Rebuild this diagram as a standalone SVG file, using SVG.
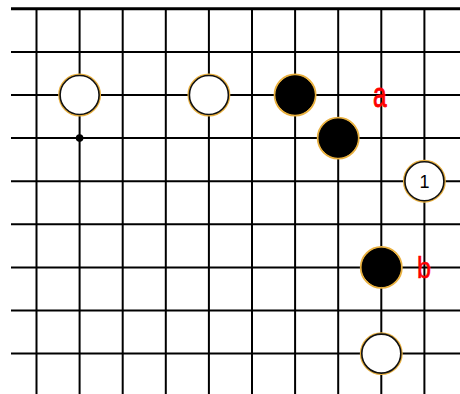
<svg xmlns="http://www.w3.org/2000/svg" width="460" height="394" viewBox="0 0 460 394">
<style>
.g{stroke:#000;stroke-width:2;fill:none}
.halo{stroke:#e8b040;stroke-width:2.5}
.w{fill:#fff;stroke:#111;stroke-width:1.6}
.b{fill:#000;stroke:#000;stroke-width:1}
.lbl{font-family:"Liberation Sans",Arial,sans-serif;fill:#ff0000;stroke:#ff0000;stroke-width:0.6;text-anchor:middle}
</style>
<rect width="460" height="394" fill="#fff"/>
<g id="grid" class="g">
<line x1="11" y1="8.8" x2="460" y2="8.8" stroke-width="3"/>
<line x1="11" y1="51.9" x2="460" y2="51.9"/>
<line x1="11" y1="95" x2="460" y2="95"/>
<line x1="11" y1="138.1" x2="460" y2="138.1"/>
<line x1="11" y1="181.2" x2="460" y2="181.2"/>
<line x1="11" y1="224.3" x2="460" y2="224.3"/>
<line x1="11" y1="267.4" x2="460" y2="267.4"/>
<line x1="11" y1="310.5" x2="460" y2="310.5"/>
<line x1="11" y1="353.6" x2="460" y2="353.6"/>
<line x1="36.5" y1="8" x2="36.5" y2="394"/>
<line x1="79.6" y1="8" x2="79.6" y2="394"/>
<line x1="122.7" y1="8" x2="122.7" y2="394"/>
<line x1="165.8" y1="8" x2="165.8" y2="394"/>
<line x1="208.9" y1="8" x2="208.9" y2="394"/>
<line x1="252" y1="8" x2="252" y2="394"/>
<line x1="295.1" y1="8" x2="295.1" y2="394"/>
<line x1="338.2" y1="8" x2="338.2" y2="394"/>
<line x1="381.3" y1="8" x2="381.3" y2="394"/>
<line x1="424.4" y1="8" x2="424.4" y2="394"/>
</g>
<circle id="hoshi" cx="79.6" cy="138.1" r="3.8" fill="#000"/>
<g id="w1"><circle class="halo" cx="79.6" cy="95" r="20.2" fill="#fff"/><circle class="w" cx="79.6" cy="95" r="19.5"/></g>
<g id="w2"><circle class="halo" cx="208.9" cy="95" r="20.2" fill="#fff"/><circle class="w" cx="208.9" cy="95" r="19.5"/></g>
<g id="b1"><circle class="halo" cx="295.1" cy="95" r="20.2" fill="#000"/><circle class="b" cx="295.1" cy="95" r="19.2"/></g>
<g id="b2"><circle class="halo" cx="338.2" cy="138.1" r="20.2" fill="#000"/><circle class="b" cx="338.2" cy="138.1" r="19.2"/></g>
<g id="w3"><circle class="halo" cx="424.4" cy="181.2" r="20.2" fill="#fff"/><circle class="w" cx="424.4" cy="181.2" r="19.5"/>
<text x="424.4" y="188" font-family="Liberation Sans,Arial,sans-serif" font-size="18" text-anchor="middle" fill="#000">1</text></g>
<g id="b3"><circle class="halo" cx="381.3" cy="267.4" r="20.2" fill="#000"/><circle class="b" cx="381.3" cy="267.4" r="19.2"/></g>
<g id="w4"><circle class="halo" cx="381.3" cy="353.6" r="20.2" fill="#fff"/><circle class="w" cx="381.3" cy="353.6" r="19.5"/></g>
<text id="la" class="lbl" x="380" y="107" font-size="26" transform="translate(380 107) scale(0.95 1.35) translate(-380 -107)">a</text>
<text id="lb" class="lbl" x="424" y="278" font-size="28" transform="translate(424 278) scale(0.9 1.05) translate(-424 -278)">b</text>
</svg>
